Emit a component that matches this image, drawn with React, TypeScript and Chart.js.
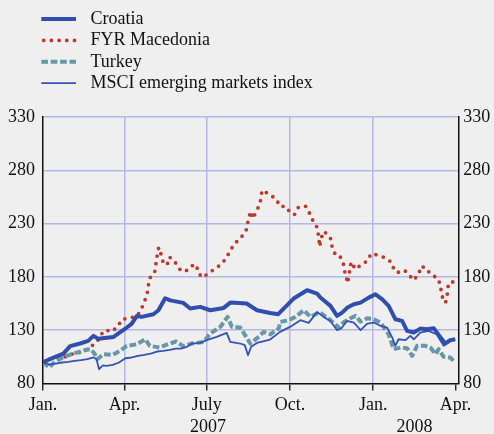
import { useEffect, useRef } from "react";
import { Chart, registerables } from "chart.js";

Chart.register(...registerables);

const FONT = "'Liberation Serif', 'Times New Roman', serif";
const TEXT = "#111111";
const BG = "#efefef";
const GRID = "#b3b8e6";

// x axis: days since 1 Jan 2007
const tickDays = [0, 90, 181, 273, 365, 456];
const tickLabels = ["Jan.", "Apr.", "July", "Oct.", "Jan.", "Apr."];
const yearLabels = ["2007", "2008"];
const yearCenters = [182.5, 410.5];

const seriesNames = ["Croatia", "FYR Macedonia", "Turkey", "MSCI emerging markets index"];

const croatiaDays = [0, 11, 22.5, 30, 41, 50, 55.7, 61, 78, 85, 92.6, 98, 103.7, 109, 122, 127.6, 135, 140.6, 155, 162.7, 173.8, 184.9, 199.7, 207, 225, 236.5, 251, 260, 266, 277, 291.8, 302.9, 306.6, 317.7, 325, 330.6, 336, 343.5, 351, 360, 367.5, 375, 382, 389.4, 396.9, 402.4, 409.8, 417, 424.4, 431.8, 439, 444.6, 450, 455.6];
const croatiaValues = [100, 104, 108, 115, 117.5, 120, 124.7, 122, 123.7, 128, 132.5, 136, 143.4, 142.5, 145, 148.7, 160, 158, 155.6, 150.3, 151.9, 148.7, 150.9, 155.9, 155, 148.7, 146.2, 145, 150.3, 159.7, 167.5, 164.4, 160.6, 152.8, 143.4, 146.5, 151, 154.3, 155.9, 160.6, 163.7, 159, 152.8, 140.3, 138.7, 129.4, 127.8, 131.5, 130.9, 131.9, 123.7, 117.5, 120.6, 121.5];

const macedoniaDays = [0, 8.7, 17, 26, 35.6, 44, 52.5, 59.7, 63.5, 69, 76.3, 83, 87.4, 95.5, 104, 108.7, 112, 115, 117.6, 123.5, 126, 127.9, 129.5, 131, 134, 137.6, 139.8, 143.5, 148.7, 152.4, 158, 163.9, 169.4, 171.6, 176.4, 183.8, 190.4, 197.8, 203.3, 207, 212.5, 218.8, 224.4, 226.2, 228.4, 230, 231.7, 234.7, 238.4, 241, 242, 245.8, 250.6, 258, 261.7, 268, 273.4, 277.9, 281.9, 290, 294.8, 298.5, 302.9, 304.4, 305.8, 307.3, 309.6, 313.2, 317.7, 319.5, 323.2, 328, 331.7, 333.5, 335.4, 336.8, 338, 340.6, 345.4, 351, 358.4, 362.8, 370.5, 377.5, 384.9, 387.8, 391.5, 399.6, 405.2, 409.2, 415.5, 417.3, 422.9, 428.4, 436.5, 439.5, 440.2, 443.2, 445, 446.8, 447.5, 450.4, 456];
const macedoniaValues = [100, 103.4, 105, 105, 109, 109, 114.4, 119, 125.3, 130.3, 128.7, 134, 140.3, 141.2, 143.4, 149.7, 156.5, 163.7, 178.4, 184.7, 199.3, 207.5, 206, 198, 191.2, 192.5, 198.7, 196.2, 190.9, 185.6, 185.6, 190.3, 191.5, 183.7, 179.4, 184, 187.8, 192.5, 198.7, 205, 211.8, 216.9, 223.1, 230.6, 238.4, 241.5, 234.7, 239.4, 246.2, 253.4, 261.2, 259.7, 257.2, 252.8, 246.2, 246.2, 240.3, 238.4, 245, 246.5, 239.4, 232.5, 226.5, 219.3, 208.4, 215.3, 222.5, 221, 216.3, 208.4, 200.6, 199.7, 193.4, 185, 178.8, 174.1, 180.9, 194, 187.2, 190.9, 195, 201.9, 200.3, 198.1, 194, 187.2, 184, 186.2, 181.5, 176.9, 182.5, 189.7, 188.7, 182.5, 178.7, 171.5, 164.4, 156.9, 155.9, 163.7, 170.6, 175.6, 174.7];

const turkeyDays = [0, 7, 14, 21, 28, 35, 42, 49, 53, 57, 60, 67, 77, 85, 92.6, 103.7, 113, 118, 129, 136, 147, 155, 164.6, 177.5, 184.9, 196, 204, 208.8, 218, 224.6, 229, 238.3, 243.8, 251.3, 260.5, 262.4, 271.6, 279, 288.2, 295.6, 302.9, 306.6, 317.7, 327, 332, 339.9, 345.4, 351, 358.4, 365.7, 373, 382, 387.6, 395, 402.4, 408, 413.5, 422.7, 428.2, 433.7, 437.3, 442.8, 450, 455.6];
const turkeyValues = [100, 95, 101, 104, 106.5, 108.5, 110, 112, 112.2, 108, 102.8, 107.5, 106.9, 110.6, 115.3, 116.8, 121.5, 115.3, 113.7, 116.2, 119.4, 115, 117.5, 119, 126.9, 133.1, 142.5, 133.1, 132.5, 123.7, 117.5, 123.7, 128.4, 126.2, 131.5, 137.8, 139.4, 142.5, 148.7, 142.5, 145.6, 146.5, 139.4, 132.5, 137.2, 141.2, 143.4, 138.1, 141.2, 140.3, 137.2, 126.2, 112.2, 113.7, 113.1, 105.9, 115.3, 115.3, 113.7, 107.5, 112.2, 105, 104.4, 99.7];

const msciDays = [0, 7, 14, 21, 28, 35, 42, 49, 56, 59, 62, 66, 70, 77, 84, 91, 98, 105, 112, 119, 126, 133, 140, 147, 152, 159, 164.6, 173.8, 181, 192, 203, 207, 218, 223, 226.6, 230, 236.5, 251, 262, 273, 284.5, 293.7, 302.9, 310, 317.7, 325, 330, 336, 343.5, 351, 358.4, 365.7, 373, 380.4, 386, 389.4, 393, 400.4, 406, 409.8, 417, 426, 435, 442.8, 450, 455.6];
const msciValues = [100, 98, 98.7, 99.7, 100.3, 101.3, 101.9, 102.8, 104.4, 103, 93.4, 97, 96.5, 97.5, 99.7, 103.7, 104.4, 106, 106.9, 108.1, 110, 110.6, 111.5, 112.8, 112.8, 114.4, 117.5, 118.1, 120.6, 123.7, 127.5, 119, 117.5, 116, 106.5, 114.4, 118.1, 121.2, 128.4, 133.1, 139.4, 136.9, 147.2, 142.5, 138.7, 130, 132, 138.7, 137.2, 130, 136.2, 137.2, 134, 132.5, 123.1, 115.3, 121.5, 120.6, 124.7, 121.5, 127.8, 129.4, 126.2, 115.3, 120.6, 121.5];

const styles = [
  { color: "#2f4fae", width: 4, dash: [] as number[], cap: "butt" as CanvasLineCap },
  { color: "#bd3a2b", width: 3.8, dash: [0, 7.7], cap: "round" as CanvasLineCap },
  { color: "#6698a7", width: 4, dash: [6.7, 2.7], cap: "butt" as CanvasLineCap },
  { color: "#3453b4", width: 1.8, dash: [] as number[], cap: "butt" as CanvasLineCap },
];

const toPoints = (xs: number[], ys: number[]) => xs.map((x, i) => ({ x, y: ys[i] }));

const overlayPlugin = {
  id: "overlay",
  beforeDraw(chart: any) {
    const ctx = chart.ctx;
    ctx.save();
    ctx.fillStyle = BG;
    ctx.fillRect(0, 0, chart.width, chart.height);
    ctx.restore();
  },
  afterDraw(chart: any) {
    const ctx = chart.ctx;
    ctx.save();
    // legend
    const rowTop = 19;
    const rowGap = 21.4;
    seriesNames.forEach((name, i) => {
      const st = styles[i];
      const y = rowTop + i * rowGap;
      ctx.beginPath();
      ctx.strokeStyle = st.color;
      ctx.lineWidth = st.width;
      ctx.lineCap = st.cap;
      ctx.setLineDash(st.dash);
      const x0 = i === 1 ? 43.7 : 41.3;
      ctx.moveTo(x0, y);
      ctx.lineTo(76, y);
      ctx.stroke();
      ctx.setLineDash([]);
      ctx.fillStyle = TEXT;
      ctx.font = `18px ${FONT}`;
      ctx.textAlign = "left";
      ctx.textBaseline = "middle";
      ctx.fillText(name, 90.5, y);
    });
    // year labels under the month labels
    const xs = chart.scales.x;
    ctx.fillStyle = TEXT;
    ctx.font = `18px ${FONT}`;
    ctx.textAlign = "center";
    ctx.textBaseline = "alphabetic";
    yearLabels.forEach((t, i) => {
      ctx.fillText(t, xs.getPixelForValue(yearCenters[i]), xs.top + 48);
    });
    ctx.restore();
  },
};

export default function App() {
  const ref = useRef<HTMLCanvasElement | null>(null);
  useEffect(() => {
    document.body.style.margin = "0";
    document.body.style.background = BG;
    const canvas = ref.current!;
    const seriesData = [
      toPoints(croatiaDays, croatiaValues),
      toPoints(macedoniaDays, macedoniaValues),
      toPoints(turkeyDays, turkeyValues),
      toPoints(msciDays, msciValues),
    ];
    const order = [0, 3, 2, 1];
    const chart = new Chart(canvas, {
      type: "line",
      data: {
        datasets: seriesData.map((d, i) => ({
          label: seriesNames[i],
          data: d,
          borderColor: styles[i].color,
          backgroundColor: styles[i].color,
          borderWidth: styles[i].width,
          borderDash: styles[i].dash,
          borderCapStyle: styles[i].cap,
          borderJoinStyle: "round" as CanvasLineJoin,
          pointRadius: 0,
          tension: 0,
          fill: false,
          order: order[i],
          yAxisID: "y",
        })),
      },
      options: {
        animation: false,
        responsive: false,
        devicePixelRatio: 1,
        layout: { padding: { top: 117, left: 0, right: 0, bottom: 0 } },
        plugins: { legend: { display: false }, tooltip: { enabled: false } },
        scales: {
          x: {
            type: "linear",
            min: 0,
            max: 459,
            afterBuildTicks: (scale: any) => {
              scale.ticks = tickDays.map((v) => ({ value: v }));
            },
            afterFit: (scale: any) => {
              scale.height = 50.5;
            },
            ticks: {
              autoSkip: false,
              maxRotation: 0,
              padding: 4,
              color: TEXT,
              font: { family: FONT, size: 18 },
              callback: (_v: any, i: number) => tickLabels[i],
            },
            grid: {
              color: (c: any) => (c.index === 0 || c.index === tickDays.length - 1 ? "rgba(0,0,0,0)" : GRID),
              lineWidth: 1.5,
              drawTicks: true,
              tickLength: 7,
              tickColor: "#111",
              tickWidth: 1.3,
            },
            border: { display: true, color: "#111", width: 1.5 },
          },
          y: {
            position: "left",
            min: 80,
            max: 330,
            afterBuildTicks: (scale: any) => {
              const t = [];
              for (let v = 80; v <= 330; v += 50) t.push({ value: v });
              scale.ticks = t;
            },
            afterFit: (scale: any) => {
              scale.width = 43;
            },
            ticks: {
              padding: 8,
              color: TEXT,
              font: { family: FONT, size: 18 },
            },
            grid: {
              color: (c: any) => (c.index === 0 ? "rgba(0,0,0,0)" : GRID),
              lineWidth: 1.5,
              drawTicks: false,
            },
            border: { display: true, color: "#111", width: 1.5 },
          },
          y2: {
            position: "right",
            min: 80,
            max: 330,
            afterBuildTicks: (scale: any) => {
              const t = [];
              for (let v = 80; v <= 330; v += 50) t.push({ value: v });
              scale.ticks = t;
            },
            afterFit: (scale: any) => {
              scale.width = 35.7;
            },
            ticks: {
              padding: 5,
              color: TEXT,
              font: { family: FONT, size: 18 },
            },
            grid: { color: "rgba(0,0,0,0)", drawTicks: false, drawOnChartArea: false },
            border: { display: true, color: "#111", width: 1.5 },
          },
        },
      },
      plugins: [overlayPlugin],
    } as any);
    return () => chart.destroy();
  }, []);
  return (
    <div style={{ width: 494, height: 434, background: BG }}>
      <canvas ref={ref} width={494} height={434} style={{ display: "block" }} />
    </div>
  );
}
